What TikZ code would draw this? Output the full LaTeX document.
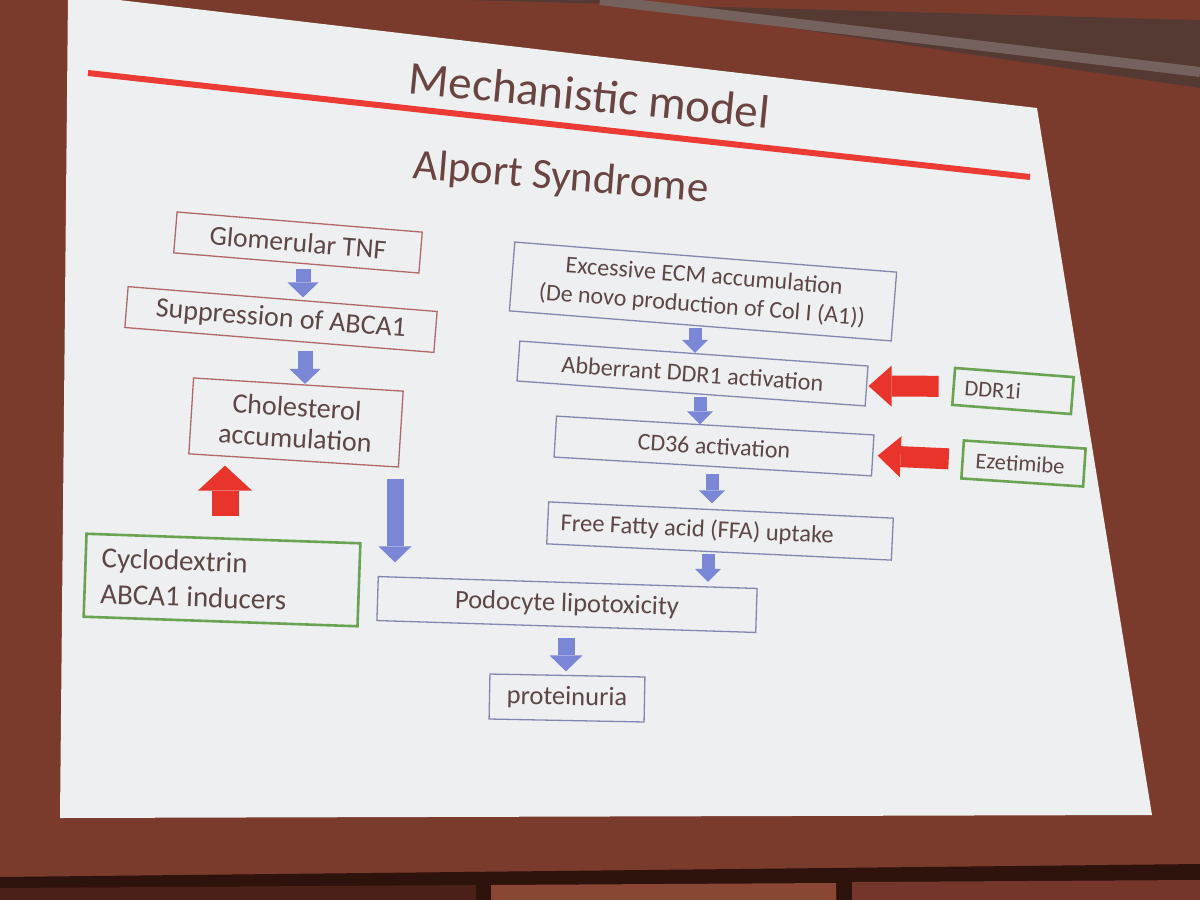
\documentclass[tikz,border=0pt]{standalone}
\usepackage{fontspec}
\setmainfont{Carlito}
\usetikzlibrary{arrows.meta}
\definecolor{wall}{HTML}{7A3A2C}
\definecolor{walldk}{HTML}{2E120C}
\definecolor{wallbl}{HTML}{4A2018}
\definecolor{wallbm}{HTML}{8A4634}
\definecolor{wallbr}{HTML}{74362A}
\definecolor{beam}{HTML}{553A33}
\definecolor{lip}{HTML}{75625D}
\definecolor{slide}{HTML}{EDEFF0}
\definecolor{txt}{HTML}{5E4646}
\definecolor{ttl}{HTML}{6A4440}
\definecolor{redbox}{HTML}{B06868}
\definecolor{bluebox}{HTML}{8387B0}
\definecolor{greenbox}{HTML}{6AA453}
\definecolor{barrowc}{HTML}{7A86D6}
\definecolor{rarrowc}{HTML}{E8342B}
\definecolor{redline}{HTML}{EC3B35}
\newcommand{\fsz}[2]{\fontsize{#1}{#2}\selectfont}
\begin{document}
\begin{tikzpicture}[x=1pt,y=-1pt,
  box/.style={draw, line width=1.3pt, inner sep=0pt, align=center, text=txt},
  lbox/.style={box, draw=redbox},
  rbox/.style={box, draw=bluebox},
  gbox/.style={box, draw=greenbox, line width=2.6pt, align=flush left},
  barrow/.style={draw=barrowc, line width=15pt,
    -{Triangle[length=15pt 0 0, width=31pt 0 0, line width=0pt 0 0]}},
  barrowL/.style={draw=barrowc, line width=17pt,
    -{Triangle[length=16pt 0 0, width=33pt 0 0, line width=0pt 0 0]}},
  barrowS/.style={draw=barrowc, line width=13pt,
    -{Triangle[length=13pt 0 0, width=26pt 0 0, line width=0pt 0 0]}},
  rarrow/.style={draw=rarrowc, line width=21pt,
    -{Triangle[length=23pt 0 0, width=41pt 0 0, line width=0pt 0 0]}},
  rarrowB/.style={draw=rarrowc, line width=27pt,
    -{Triangle[length=25pt 0 0, width=54pt 0 0, line width=0pt 0 0]}},
  ttlstyle/.style={text=ttl, inner sep=0pt, anchor=base}
]
\clip (0,0) rectangle (1200,900);
% room
\fill[wall] (0,0) rectangle (1200,900);
\fill[beam] (466,0) -- (1200,20) -- (1200,88) -- (600,0) -- cycle;
\draw[lip, line width=10pt] (600,0) -- (1200,72);
\fill[walldk] (0,877) -- (1200,864) -- (1200,900) -- (0,900) -- cycle;
\fill[wallbl] (0,888) -- (476,885) -- (476,900) -- (0,900) -- cycle;
\fill[wallbm] (491,885) -- (836,883) -- (836,900) -- (491,900) -- cycle;
\fill[wallbr] (852,882) -- (1200,880) -- (1200,900) -- (852,900) -- cycle;
% slide
\fill[slide] (68,-6) -- (1037,108) -- (1152,815) -- (60,818) -- cycle;
\coordinate (rl1) at (88,73);
\coordinate (rl2) at (1030,177);
\draw[redline, line width=6pt] (rl1) -- (rl2);
\node[ttlstyle, rotate=-5.6, font=\fsz{47}{56}] (title) at (588,111) {Mechanistic model};
\node[ttlstyle, rotate=-4.6, font=\fsz{43}{52}] (sub) at (560,190) {Alport Syndrome};
% left column
\node[lbox, minimum width=246pt, minimum height=41pt, rotate=-4.7, font=\fsz{27.5}{33}] (tnf) at (298,242.5) {Glomerular TNF};
\node[lbox, minimum width=310pt, minimum height=41pt, rotate=-4.6, font=\fsz{28}{34}] (sup) at (281,319.5) {Suppression of ABCA1};
\node[lbox, minimum width=210pt, minimum height=76pt, rotate=-3.6, font=\fsz{28}{31}] (chol) at (296,422.5) {Cholesterol\\accumulation};
\node[gbox, text width=242pt, inner xsep=16pt, minimum height=83pt, rotate=-2.0, font=\fsz{29}{36}] (cyc) at (222,580) {Cyclodextrin\\ABCA1 inducers};
\node[rbox, minimum width=379pt, minimum height=44pt, rotate=-1.8, font=\fsz{26.5}{32}] (podo) at (567,604.5) {Podocyte lipotoxicity};
\node[rbox, minimum width=155pt, minimum height=45pt, rotate=-1.1, font=\fsz{26.5}{32}] (prot) at (567,698) {proteinuria};
% right column
\node[rbox, minimum width=383pt, minimum height=69pt, rotate=-4.5, font=\fsz{24}{29}] (exc) at (703,291.5) {Excessive ECM accumulation\\(De novo production of Col I (A1))};
\node[rbox, minimum width=349pt, minimum height=40pt, rotate=-4.1, font=\fsz{24.2}{29}] (ddr) at (692.5,373.5) {Abberrant DDR1 activation};
\node[rbox, minimum width=318pt, minimum height=41pt, rotate=-3.4, font=\fsz{24}{29}] (cd) at (714,446) {CD36 activation};
\node[rbox, align=flush left, text width=319pt, inner xsep=13pt, minimum height=42pt, rotate=-2.7, font=\fsz{24.5}{29}] (ffa) at (720,531) {Free Fatty acid (FFA) uptake};
\node[gbox, text width=97pt, inner xsep=11pt, minimum height=37pt, rotate=-4.4, font=\fsz{22.5}{27}] (ddri) at (1013,391) {DDR1i};
\node[gbox, text width=96pt, inner xsep=13pt, minimum height=38pt, rotate=-3.8, font=\fsz{22.5}{27}] (eze) at (1023.5,463.5) {Ezetimibe};
% connectors
\draw[barrow, shorten <=5pt, shorten >=1pt] (303,0 |- tnf.south) -- (303,0 |- sup.north);
\draw[barrow, shorten <=10pt, shorten >=0pt] (305,0 |- sup.south) -- (305,0 |- chol.north);
\draw[barrowL, shorten <=17.5pt, shorten >=19.5pt] (395,0 |- chol.south) -- (395,0 |- podo.north);
\draw[rarrowB, shorten <=21.5pt, shorten >=4.5pt] (225,0 |- cyc.north) -- (225,0 |- chol.south);
\draw[barrowL, shorten <=10.5pt, shorten >=3.5pt] (566,0 |- podo.south) -- (566,0 |- prot.north);
\draw[barrowS, shorten <=1pt, shorten >=0pt] (695,0 |- exc.south) -- (695,0 |- ddr.north);
\draw[barrowS, shorten <=2.5pt, shorten >=0.5pt] (700,0 |- ddr.south) -- (700,0 |- cd.north);
\draw[barrowS, shorten <=6.5pt, shorten >=6pt] (712,0 |- cd.south) -- (712,0 |- ffa.north);
\draw[barrowS, shorten <=1pt, shorten >=0pt] (708,0 |- ffa.south) -- (708,0 |- podo.north);
\draw[rarrow, shorten <=13.7pt, shorten >=1.4pt] (ddri.west) -- (ddr.east);
\draw[rarrow, shorten <=12.6pt, shorten >=4.3pt] (eze.west) -- (cd.east);
\end{tikzpicture}
\end{document}
